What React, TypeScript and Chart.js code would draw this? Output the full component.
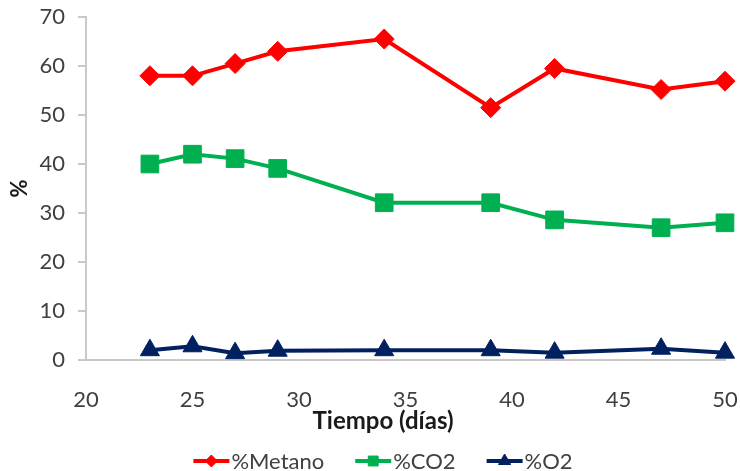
import React, { useEffect, useRef } from "react";
import { Chart, registerables } from "chart.js";
import { drawPoint } from "chart.js/helpers";

Chart.register(...registerables);

const days = [23, 25, 27, 29, 34, 39, 42, 47, 50];
const metano = [58, 58, 60.5, 63, 65.5, 51.5, 59.5, 55.2, 56.9];
const co2 = [40, 42, 41.1, 39.1, 32.1, 32.1, 28.6, 27, 28];
const o2 = [2, 2.8, 1.4, 1.9, 2, 2, 1.5, 2.3, 1.5];
const seriesNames = ["%Metano", "%CO2", "%O2"];
const xTitle = "Tiempo (días)";
const yTitle = "%";

const FONT = "Lato, 'Open Sans', sans-serif";

const legendPlugin = {
  id: "customLegendAndTitle",
  afterDraw(chart: any) {
    const ctx = chart.ctx as CanvasRenderingContext2D;
    const cx = 383;
    ctx.save();
    // x axis title
    ctx.font = `bold 24px ${FONT}`;
    ctx.fillStyle = "#1a1a1a";
    ctx.textAlign = "center";
    ctx.textBaseline = "middle";
    ctx.fillText(xTitle, cx, 421);

    // legend
    ctx.font = `22px ${FONT}`;
    ctx.textAlign = "left";
    const lineLen = 36;
    const gapText = 2;
    const gapItem = 31;
    const items = chart.data.datasets.map((ds: any) => ({
      ds,
      w: ctx.measureText(ds.label).width,
    }));
    const total =
      items.reduce((s: number, i: any) => s + lineLen + gapText + i.w, 0) +
      gapItem * (items.length - 1);
    let x = cx - total / 2;
    const y = 461;
    items.forEach(({ ds, w }: any) => {
      ctx.strokeStyle = ds.borderColor;
      ctx.lineWidth = 4;
      ctx.beginPath();
      ctx.moveTo(x, y);
      ctx.lineTo(x + lineLen, y);
      ctx.stroke();
      ctx.fillStyle = ds.borderColor;
      ctx.lineWidth = 1;
      drawPoint(
        ctx,
        { pointStyle: ds.pointStyle, radius: ds.legendRadius, rotation: 0, borderWidth: 1 },
        x + lineLen / 2,
        y
      );
      ctx.fillStyle = "#404040";
      ctx.fillText(ds.label, x + lineLen + gapText, y + 1);
      x += lineLen + gapText + w + gapItem;
    });
    ctx.restore();
  },
};

export default function App() {
  const ref = useRef<HTMLCanvasElement | null>(null);

  useEffect(() => {
    if (!ref.current) return;
    const mk = (vals: number[]) => vals.map((v, i) => ({ x: days[i], y: v }));
    const chart = new Chart(ref.current, {
      type: "line",
      data: {
        datasets: [
          {
            label: seriesNames[0],
            data: mk(metano),
            borderColor: "#ff0000",
            backgroundColor: "#ff0000",
            borderWidth: 4,
            pointStyle: "rectRot",
            pointRadius: 10,
            pointBorderWidth: 1,
            clip: false,
            legendRadius: 6,
          } as any,
          {
            label: seriesNames[1],
            data: mk(co2),
            borderColor: "#00b050",
            backgroundColor: "#00b050",
            borderWidth: 4,
            pointStyle: "rect",
            pointRadius: 12.5,
            pointBorderWidth: 1,
            clip: false,
            legendRadius: 7,
          } as any,
          {
            label: seriesNames[2],
            data: mk(o2),
            borderColor: "#002060",
            backgroundColor: "#002060",
            borderWidth: 4,
            pointStyle: "triangle",
            pointRadius: 11,
            pointBorderWidth: 1,
            clip: false,
            legendRadius: 7,
          } as any,
        ],
      },
      options: {
        responsive: false,
        animation: false,
        layout: { padding: { top: 17, right: 15, bottom: 40, left: 0 } },
        plugins: {
          legend: { display: false },
          tooltip: { enabled: false },
        },
        scales: {
          x: {
            type: "linear",
            min: 20,
            max: 50,
            ticks: {
              stepSize: 5,
              padding: 0,
              color: "#404040",
              font: { family: FONT, size: 22, lineHeight: 1 },
            },
            grid: {
              display: true,
              drawOnChartArea: false,
              drawTicks: true,
              tickLength: 29,
              tickColor: "rgba(0,0,0,0)",
            },
            border: { display: true, color: "#c8c8c8", width: 2 },
            afterFit: (scale: any) => {
              scale.height = 71;
            },
          },
          y: {
            min: 0,
            max: 70,
            ticks: {
              stepSize: 10,
              padding: 13,
              color: "#404040",
              font: { family: FONT, size: 22, lineHeight: 0.3 },
            },
            grid: {
              display: true,
              drawOnChartArea: false,
              drawTicks: true,
              tickLength: 8,
              color: "#c8c8c8",
              lineWidth: 2,
            },
            border: { display: true, color: "#c8c8c8", width: 2 },
            title: {
              display: true,
              text: yTitle,
              color: "#1a1a1a",
              font: { family: FONT, size: 22, weight: "bold", lineHeight: 1 },
              padding: { top: 9, bottom: 0 },
            },
            afterFit: (scale: any) => {
              scale.width = 86;
            },
          },
        },
      },
      plugins: [legendPlugin],
    });
    return () => chart.destroy();
  }, []);

  return (
    <div style={{ position: "fixed", left: 0, top: 0, width: 740, height: 471, background: "#fff" }}>
      <canvas ref={ref} width={740} height={471} style={{ display: "block" }} />
    </div>
  );
}
